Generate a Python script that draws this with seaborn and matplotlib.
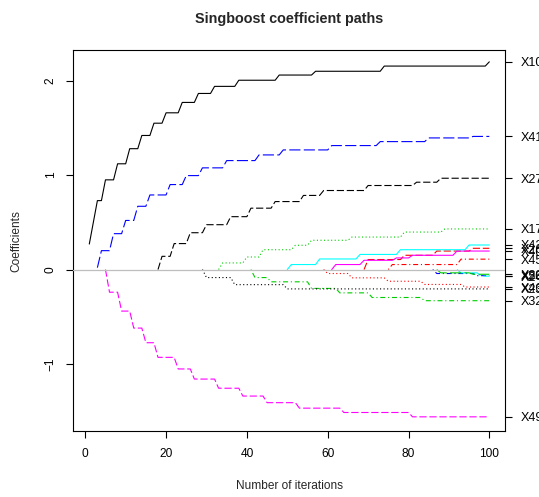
import numpy as np
import pandas as pd
import seaborn as sns
import matplotlib
matplotlib.use("Agg")
import matplotlib.pyplot as plt

iterations = np.arange(1, 101)

# coefficient paths: iteration where the value changes -> new value
x10_at = [1, 2, 3, 5, 8, 11, 14, 17, 20, 24, 28, 32, 38, 48, 57, 74, 100]
x10_val = [0.27, 0.5, 0.73, 0.95, 1.12, 1.28, 1.42, 1.55, 1.66, 1.77, 1.865,
           1.94, 2.005, 2.06, 2.10, 2.155, 2.2]

x26_at = [69, 70, 79, 87, 96]
x26_val = [0.0, 0.106, 0.151, 0.196, 0.225]

x17_at = [33, 34, 40, 44, 52, 56, 66, 79, 89]
x17_val = [0.0, 0.07, 0.133, 0.21, 0.257, 0.31, 0.344, 0.397, 0.43]

x50_at = [86, 87, 97]
x50_val = [0.0, -0.042, -0.065]

x24_at = [92, 93, 98]
x24_val = [0.0, -0.035, -0.07]

x40_at = [61, 62, 69, 77, 81, 92]
x40_val = [0.0, 0.053, 0.098, 0.123, 0.151, 0.196]

x27_at = [18, 19, 22, 26, 30, 36, 41, 47, 54, 59, 70, 82, 88]
x27_val = [0.0, 0.14, 0.275, 0.39, 0.475, 0.56, 0.65, 0.72, 0.785, 0.837,
           0.89, 0.925, 0.967]

x46_at = [59, 60, 66, 75, 84, 94]
x46_val = [0.0, -0.042, -0.088, -0.124, -0.158, -0.185]

x32_at = [41, 42, 46, 56, 63, 71, 84]
x32_val = [0.0, -0.085, -0.13, -0.2, -0.247, -0.296, -0.33]

x41_at = [3, 4, 7, 10, 13, 16, 21, 25, 29, 35, 43, 49, 61, 73, 85, 96]
x41_val = [0.02, 0.2, 0.38, 0.52, 0.67, 0.79, 0.90, 0.995, 1.077, 1.154,
           1.214, 1.267, 1.313, 1.355, 1.394, 1.41]

x42_at = [50, 51, 58, 68, 78, 95]
x42_val = [0.0, 0.053, 0.112, 0.16, 0.21, 0.26]

x49_at = [5, 6, 9, 12, 15, 18, 23, 27, 33, 39, 45, 53, 64, 81]
x49_val = [0.0, -0.24, -0.44, -0.62, -0.775, -0.93, -1.053, -1.16, -1.257,
           -1.34, -1.41, -1.468, -1.514, -1.56]

x23_at = [29, 30, 37, 50]
x23_val = [0.0, -0.085, -0.16, -0.205]

x45_at = [75, 76, 93]
x45_val = [0.0, 0.053, 0.11]

x29_at = [87, 88, 96]
x29_val = [0.0, -0.035, -0.05]

var_names = ["X10", "X26", "X17", "X50", "X24", "X40", "X27", "X46",
             "X32", "X41", "X42", "X49", "X23", "X45", "X29"]
var_at = [x10_at, x26_at, x17_at, x50_at, x24_at, x40_at, x27_at, x46_at,
          x32_at, x41_at, x42_at, x49_at, x23_at, x45_at, x29_at]
var_val = [x10_val, x26_val, x17_val, x50_val, x24_val, x40_val, x27_val,
           x46_val, x32_val, x41_val, x42_val, x49_val, x23_val, x45_val,
           x29_val]

# matplot style cycles (col 1:6, lty 1:5)
r_cols = ["#000000", "#FF0000", "#00CD00", "#0000FF", "#00FFFF", "#FF00FF"]
r_ltys = ["", (6.5, 2.5), (1, 2.2), (1, 2.5, 4.5, 2.5), (10, 3)]

frames = []
finals = []
for name, at, val in zip(var_names, var_at, var_val):
    s = pd.Series(val, index=at).reindex(iterations).ffill()
    finals.append(s.iloc[-1])
    frames.append(pd.DataFrame({"iteration": iterations, "coef": s.values,
                                "var": name}))
df = pd.concat(frames).dropna()

palette = {n: r_cols[i % 6] for i, n in enumerate(var_names)}
dashes = {n: r_ltys[i % 5] for i, n in enumerate(var_names)}

sns.set_style("ticks")
plt.rcParams["font.family"] = ["Liberation Sans", "DejaVu Sans"]

fig = plt.figure(figsize=(5.39, 4.97), dpi=100)
ax = fig.add_axes([0.136, 0.1328, 0.8015, 0.7656])

sns.lineplot(
    data=df,
    x="iteration",
    y="coef",
    hue="var",
    style="var",
    palette=palette,
    dashes=dashes,
    estimator=None,
    legend=False,
    linewidth=0.8,
    ax=ax
)

ax.axhline(0, color="#BEBEBE", lw=0.9, zorder=5)

ax.set_xlim(-2.96, 103.96)
ax.set_ylim(-1.71, 2.32)
ax.set_xticks([0, 20, 40, 60, 80, 100])
ax.set_yticks([-1, 0, 1, 2])

for sp in ax.spines.values():
    sp.set_visible(True)
    sp.set_linewidth(0.8)
    sp.set_color("black")

ax.tick_params(axis="both", direction="out", length=5, width=0.8,
               labelsize=8.6, colors="black")
ax.tick_params(axis="x", pad=7)
ax.tick_params(axis="y", pad=7, labelrotation=90)
for lab in ax.get_yticklabels():
    lab.set_va("center")

ax.set_xlabel("Number of iterations", fontsize=8.6)
ax.set_ylabel("Coefficients", fontsize=8.6)
ax.xaxis.set_label_coords(0.5, -0.128)
ax.yaxis.set_label_coords(-0.118, 0.5)

ax2 = ax.twinx()
ax2.set_ylim(ax.get_ylim())
ax2.set_yticks(finals)
ax2.set_yticklabels(var_names)
ax2.tick_params(axis="y", direction="out", length=5, width=0.8,
                labelsize=9, pad=6, colors="black")
for sp in ax2.spines.values():
    sp.set_visible(False)

fig.text(0.536, 0.962, "Singboost coefficient paths", ha="center",
         va="center", fontsize=10.4, fontweight="bold")

plt.savefig("out.png", dpi=100)
